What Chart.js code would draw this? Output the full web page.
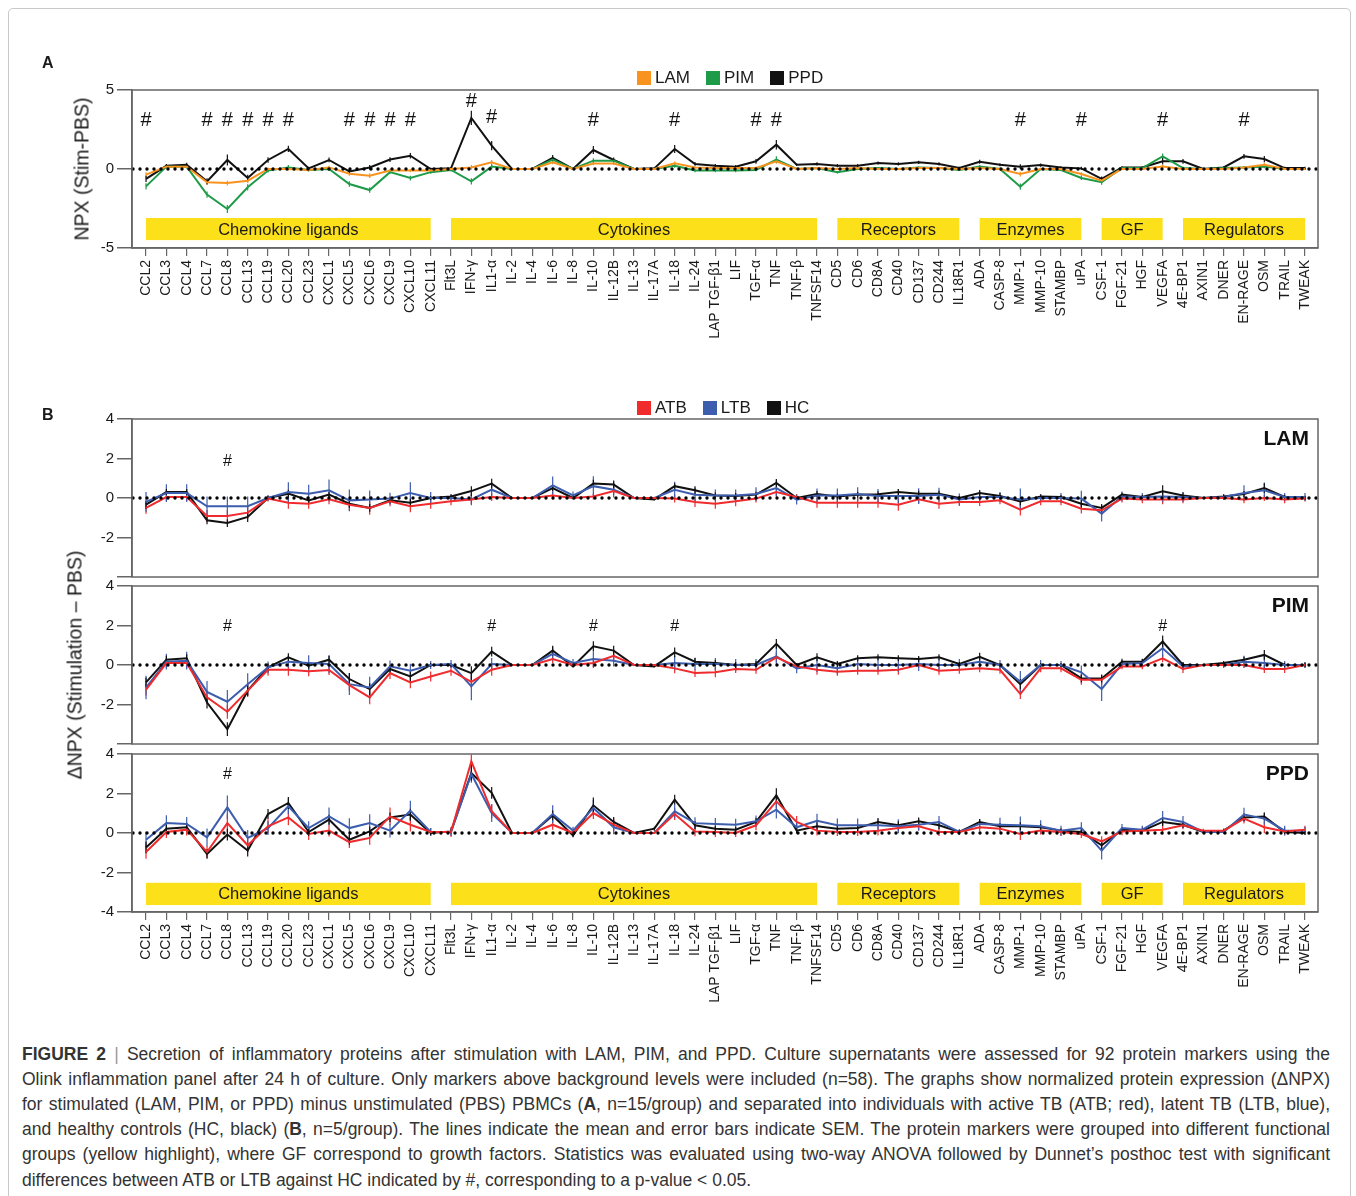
<!DOCTYPE html>
<html>
<head>
<meta charset="utf-8">
<script src="https://cdn.jsdelivr.net/npm/chart.js@4.4.0/dist/chart.umd.min.js"></script>
<style>
  body { margin: 0; background: #fff; font-family: "Liberation Sans", Arial, sans-serif; color: #1a1a1a; }
  #fig { position: relative; width: 1356px; height: 1196px; overflow: hidden; }
  .frame { position: absolute; left: 8px; top: 8px; width: 1341px; height: 1220px; border: 1px solid #c9c9c9; border-radius: 5px; }
  canvas { position: absolute; left: 0; }
  .plbl { position: absolute; font-weight: bold; font-size: 16px; }
  .legend { position: absolute; display: flex; align-items: center; font-size: 17px; white-space: nowrap; z-index: 2; }
  .legend .sq { display: inline-block; width: 14px; height: 14px; margin-right: 4px; }
  .legend .t { margin-right: 16px; }
  .ytitle { position: absolute; font-size: 19.5px; white-space: nowrap; transform: translate(-50%, -50%) rotate(-90deg); }
  .cap { position: absolute; left: 22px; width: 1308px; font-size: 17.5px; line-height: 25px; color: #333; white-space: nowrap; }
</style>
</head>
<body>
<div id="fig">
  <div class="frame"></div>
  <canvas id="chartA"></canvas>
  <canvas id="chartLAM"></canvas>
  <canvas id="chartPIM"></canvas>
  <canvas id="chartPPD"></canvas>

  <div class="plbl" style="left:42px;top:54px;">A</div>
  <div class="plbl" style="left:42px;top:406px;">B</div>

  <div class="legend" style="left:637px;top:68px;">
    <span class="sq" style="background:#F7931E"></span><span class="t">LAM</span>
    <span class="sq" style="background:#1E9B48"></span><span class="t">PIM</span>
    <span class="sq" style="background:#111"></span><span class="t">PPD</span>
  </div>
  <div class="legend" style="left:637px;top:398px;">
    <span class="sq" style="background:#EF2B2D"></span><span class="t">ATB</span>
    <span class="sq" style="background:#3D5DAE"></span><span class="t">LTB</span>
    <span class="sq" style="background:#111"></span><span class="t">HC</span>
  </div>

  <div class="ytitle" style="left:82px;top:169px;">NPX (Stim-PBS)</div>
  <div class="ytitle" style="left:75px;top:665px;">ΔNPX (Stimulation – PBS)</div>

  <div class="cap j" style="top:1042px;"><span><b>FIGURE 2</b> <span style="color:#999">|</span> Secretion of inflammatory proteins after stimulation with LAM, PIM, and PPD. Culture supernatants were assessed for 92 protein markers using the</span></div>
  <div class="cap j" style="top:1067px;"><span>Olink inflammation panel after 24 h of culture. Only markers above background levels were included (n=58). The graphs show normalized protein expression (ΔNPX)</span></div>
  <div class="cap j" style="top:1092px;"><span>for stimulated (LAM, PIM, or PPD) minus unstimulated (PBS) PBMCs (<b>A</b>, n=15/group) and separated into individuals with active TB (ATB; red), latent TB (LTB, blue),</span></div>
  <div class="cap j" style="top:1117px;"><span>and healthy controls (HC, black) (<b>B</b>, n=5/group). The lines indicate the mean and error bars indicate SEM. The protein markers were grouped into different functional</span></div>
  <div class="cap j" style="top:1142px;"><span>groups (yellow highlight), where GF correspond to growth factors. Statistics was evaluated using two-way ANOVA followed by Dunnet’s posthoc test with significant</span></div>
  <div class="cap" style="top:1168px;"><span>differences between ATB or LTB against HC indicated by #, corresponding to a p-value &lt; 0.05.</span></div>
</div>

<script>
// ---------- categories and groups ----------
const categories = [
  'CCL2', 'CCL3', 'CCL4', 'CCL7', 'CCL8', 'CCL13', 'CCL19', 'CCL20', 'CCL23', 'CXCL1', 'CXCL5', 'CXCL6', 'CXCL9', 'CXCL10', 'CXCL11',
  'Flt3L', 'IFN-γ', 'IL1-α', 'IL-2', 'IL-4', 'IL-6', 'IL-8', 'IL-10', 'IL-12B', 'IL-13', 'IL-17A', 'IL-18', 'IL-24', 'LAP TGF-β1', 'LIF', 'TGF-α', 'TNF', 'TNF-β', 'TNFSF14',
  'CD5', 'CD6', 'CD8A', 'CD40', 'CD137', 'CD244', 'IL18R1',
  'ADA', 'CASP-8', 'MMP-1', 'MMP-10', 'STAMBP', 'uPA',
  'CSF-1', 'FGF-21', 'HGF', 'VEGFA',
  '4E-BP1', 'AXIN1', 'DNER', 'EN-RAGE', 'OSM', 'TRAIL', 'TWEAK'
];
const groupNames = ['Chemokine ligands', 'Cytokines', 'Receptors', 'Enzymes', 'GF', 'Regulators'];
const groupStart = [0, 15, 34, 41, 47, 51];
const groupEnd   = [14, 33, 40, 46, 50, 57];

const yTicksA = [-5, 0, 5];
const yTicksB = [-4, -2, 0, 2, 4];

// ---------- panel A: mean NPX ----------
const aLam = [
  -0.36, 0.15, 0.15, -0.84, -0.89, -0.74, 0, 0, -0.06, 0.1, -0.3, -0.42, -0.1, -0.1, -0.1,
  0, 0.1, 0.42, 0, 0, 0.42, 0, 0.35, 0.35, 0, 0, 0.36, 0.1, 0.06, 0.06, 0.06, 0.49, 0, 0.06,
  0, 0.06, 0, 0, 0.06, 0.06, 0,
  0.06, 0, -0.32, 0, 0, -0.32,
  -0.74, 0, 0, 0.15,
  0, 0, 0, 0.1, 0.27, 0, 0
];
const aPim = [
  -1.1, 0.15, 0.15, -1.62, -2.53, -1.16, -0.1, 0.1, -0.06, 0, -0.95, -1.33, -0.2, -0.57, -0.2,
  -0.06, -0.78, 0.15, 0, 0, 0.6, 0, 0.53, 0.53, 0, 0, 0.2, -0.1, -0.1, -0.1, -0.06, 0.6, 0, 0.06,
  -0.2, 0, 0.06, 0, 0.1, 0.06, -0.06,
  0.15, 0, -1.12, 0, -0.06, -0.57,
  -0.84, 0.06, 0.06, 0.8,
  0.06, 0, 0.06, 0.1, 0.15, 0, 0
];
const aPpd = [
  -0.63, 0.2, 0.27, -0.78, 0.57, -0.57, 0.57, 1.27, 0.04, 0.57, -0.15, 0.1, 0.6, 0.84, 0,
  0.04, 3.23, 1.48, 0, 0, 0.7, 0, 1.2, 0.57, 0, 0.04, 1.27, 0.32, 0.21, 0.15, 0.49, 1.54, 0.27, 0.32,
  0.21, 0.21, 0.38, 0.32, 0.42, 0.32, 0.06,
  0.46, 0.27, 0.15, 0.25, 0.1, 0.04,
  -0.63, 0.1, 0.1, 0.49,
  0.49, 0, 0.1, 0.8, 0.63, 0.06, 0.06
];
const aLamErr = [
  0.15, 0.1, 0.1, 0.15, 0.15, 0.15, 0.1, 0.1, 0.08, 0.1, 0.12, 0.15, 0.1, 0.1, 0.08,
  0.08, 0.15, 0.15, 0.05, 0.05, 0.12, 0.05, 0.12, 0.1, 0.05, 0.05, 0.12, 0.08, 0.08, 0.08, 0.08, 0.15, 0.06, 0.06,
  0.06, 0.06, 0.06, 0.06, 0.06, 0.06, 0.06,
  0.08, 0.08, 0.15, 0.06, 0.06, 0.12,
  0.12, 0.06, 0.06, 0.1,
  0.06, 0.05, 0.06, 0.08, 0.12, 0.06, 0.06
];
const aPimErr = [
  0.2, 0.12, 0.12, 0.2, 0.25, 0.2, 0.12, 0.15, 0.1, 0.1, 0.18, 0.18, 0.12, 0.15, 0.1,
  0.08, 0.2, 0.15, 0.05, 0.05, 0.15, 0.05, 0.15, 0.12, 0.05, 0.05, 0.12, 0.1, 0.1, 0.1, 0.08, 0.2, 0.06, 0.06,
  0.08, 0.06, 0.06, 0.06, 0.06, 0.06, 0.06,
  0.1, 0.08, 0.2, 0.08, 0.06, 0.12,
  0.15, 0.06, 0.06, 0.18,
  0.08, 0.05, 0.06, 0.08, 0.1, 0.06, 0.06
];
const aPpdErr = [
  0.2, 0.12, 0.12, 0.2, 0.35, 0.2, 0.18, 0.2, 0.1, 0.15, 0.15, 0.15, 0.15, 0.18, 0.08,
  0.08, 0.45, 0.3, 0.05, 0.05, 0.18, 0.05, 0.25, 0.15, 0.05, 0.05, 0.25, 0.12, 0.1, 0.1, 0.15, 0.3, 0.08, 0.1,
  0.1, 0.1, 0.1, 0.1, 0.1, 0.1, 0.08,
  0.12, 0.1, 0.15, 0.1, 0.08, 0.1,
  0.15, 0.08, 0.08, 0.2,
  0.15, 0.05, 0.08, 0.15, 0.2, 0.08, 0.08
];
const hashA  = [0, 3, 4, 5, 6, 7, 10, 11, 12, 13, 16, 17, 22, 26, 30, 31, 43, 46, 50, 54];
const hashAY = [3.05, 3.05, 3.05, 3.05, 3.05, 3.05, 3.05, 3.05, 3.05, 3.05, 4.25, 3.25, 3.05, 3.05, 3.05, 3.05, 3.05, 3.05, 3.05, 3.05];

// ---------- panel B, LAM ----------
const lamAtb = [
  -0.5, 0.05, 0.05, -0.91, -0.91, -0.74, -0.03, -0.24, -0.29, -0.07, -0.34, -0.5, -0.17, -0.42, -0.29,
  -0.17, -0.07, 0.05, 0, 0, 0.13, 0, 0.08, 0.35, 0, 0, -0.03, -0.2, -0.29, -0.17, -0.03, 0.3, 0.05, -0.24,
  -0.24, -0.24, -0.24, -0.34, -0.07, -0.29, -0.2,
  -0.2, -0.12, -0.59, -0.17, -0.17, -0.54,
  -0.62, -0.03, -0.07, -0.07,
  -0.07, 0, 0, -0.07, 0, -0.07, -0.03
];
const lamLtb = [
  -0.2, 0.25, 0.25, -0.42, -0.42, -0.42, 0, 0.3, 0.22, 0.39, -0.12, -0.07, -0.03, 0.25, 0,
  0, -0.07, 0.42, 0, 0, 0.64, 0.13, 0.6, 0.42, 0, 0, 0.42, 0.17, 0.13, 0.13, 0.2, 0.5, -0.08, 0.13,
  0.13, 0.2, 0.1, 0.1, 0.1, 0.17, -0.07,
  0.05, 0.05, -0.07, 0, 0, -0.03,
  -0.79, 0.08, 0.05, 0.08,
  0.05, 0, 0.05, 0.25, 0.39, 0.05, 0.05
];
const lamHc = [
  -0.34, 0.3, 0.3, -1.13, -1.27, -0.96, 0, 0.22, -0.12, 0.17, -0.29, -0.5, -0.12, -0.24, 0,
  0.08, 0.35, 0.73, 0, 0, 0.5, 0, 0.73, 0.68, 0, -0.07, 0.6, 0.39, 0.13, 0.1, 0.17, 0.76, 0, 0.2,
  0.08, 0.17, 0.19, 0.3, 0.22, 0.22, 0,
  0.25, 0.1, -0.17, 0.08, 0.05, -0.29,
  -0.5, 0.17, 0.05, 0.34,
  0.13, 0, 0.08, 0.2, 0.5, 0.05, 0
];
const lamAtbErr = [
  0.3, 0.2, 0.2, 0.3, 0.3, 0.3, 0.15, 0.3, 0.25, 0.25, 0.3, 0.35, 0.25, 0.3, 0.25,
  0.2, 0.25, 0.2, 0.05, 0.05, 0.2, 0.05, 0.15, 0.2, 0.05, 0.05, 0.2, 0.25, 0.25, 0.25, 0.2, 0.25, 0.15, 0.25,
  0.25, 0.25, 0.25, 0.3, 0.2, 0.25, 0.2,
  0.2, 0.2, 0.3, 0.2, 0.2, 0.25,
  0.25, 0.2, 0.2, 0.25,
  0.2, 0.05, 0.1, 0.2, 0.15, 0.2, 0.15
];
const lamLtbErr = [
  0.5, 0.45, 0.45, 0.5, 0.5, 0.5, 0.15, 0.5, 0.45, 0.55, 0.55, 0.45, 0.3, 0.55, 0.3,
  0.2, 0.3, 0.35, 0.05, 0.05, 0.45, 0.2, 0.5, 0.4, 0.05, 0.05, 0.4, 0.35, 0.3, 0.3, 0.35, 0.4, 0.25, 0.35,
  0.35, 0.35, 0.35, 0.35, 0.4, 0.35, 0.3,
  0.3, 0.25, 0.55, 0.2, 0.25, 0.4,
  0.4, 0.25, 0.2, 0.3,
  0.25, 0.05, 0.15, 0.4, 0.4, 0.2, 0.2
];
const lamHcErr = [
  0.2, 0.15, 0.15, 0.2, 0.2, 0.25, 0.1, 0.2, 0.15, 0.15, 0.2, 0.2, 0.15, 0.2, 0.1,
  0.1, 0.25, 0.25, 0.05, 0.05, 0.15, 0.05, 0.2, 0.2, 0.05, 0.05, 0.15, 0.2, 0.15, 0.15, 0.15, 0.2, 0.1, 0.15,
  0.15, 0.15, 0.15, 0.15, 0.15, 0.15, 0.1,
  0.15, 0.15, 0.2, 0.1, 0.1, 0.2,
  0.2, 0.1, 0.1, 0.3,
  0.15, 0.05, 0.1, 0.15, 0.25, 0.1, 0.1
];
const hashLam  = [4];
const hashLamY = [1.82];

// ---------- panel B, PIM ----------
const pimAtb = [
  -1.25, 0.1, 0.1, -1.64, -2.37, -1.3, -0.24, -0.24, -0.32, -0.25, -1.02, -1.64, -0.41, -0.88, -0.58,
  -0.29, -0.85, -0.24, 0, 0, 0.3, 0, 0.1, 0.47, 0, 0, -0.17, -0.41, -0.37, -0.2, -0.24, 0.39, -0.07, -0.24,
  -0.34, -0.29, -0.29, -0.24, 0, -0.29, -0.24,
  -0.17, -0.24, -1.47, -0.17, -0.17, -0.75,
  -0.75, -0.07, -0.07, 0.34,
  -0.2, 0, 0, 0, -0.2, -0.2, 0
];
const pimLtb = [
  -1.14, 0.17, 0.22, -1.36, -1.86, -0.97, -0.12, 0.17, 0.1, 0.05, -0.97, -1.14, -0.07, -0.29, 0,
  0.05, -1.08, 0.05, 0, 0, 0.56, 0.1, 0.3, 0.22, 0, 0, 0.1, 0.05, 0.05, 0, 0, 0.44, -0.17, 0,
  -0.17, 0.05, 0, 0, 0.05, 0, 0,
  0.17, 0, -0.85, 0, 0, -0.37,
  -1.22, 0.05, 0.1, 0.85,
  -0.07, 0, 0, 0.17, 0.1, 0, 0
];
const pimHc = [
  -0.88, 0.27, 0.34, -1.9, -3.25, -1.3, -0.12, 0.39, -0.03, 0.27, -0.71, -1.22, -0.2, -0.58, 0,
  0, -0.41, 0.68, 0, 0, 0.73, -0.07, 0.95, 0.73, 0, -0.07, 0.64, 0.17, 0.1, 0, 0.05, 1.07, 0, 0.39,
  0.05, 0.34, 0.39, 0.34, 0.3, 0.39, 0.05,
  0.42, 0, -0.97, 0, 0, -0.68,
  -0.68, 0.17, 0.17, 1.19,
  0, 0, 0.1, 0.27, 0.51, 0, 0
];
const pimAtbErr = [
  0.3, 0.25, 0.25, 0.3, 0.35, 0.3, 0.3, 0.3, 0.25, 0.25, 0.3, 0.35, 0.3, 0.3, 0.25,
  0.25, 0.3, 0.3, 0.05, 0.05, 0.2, 0.1, 0.25, 0.25, 0.05, 0.05, 0.25, 0.2, 0.25, 0.2, 0.2, 0.25, 0.15, 0.25,
  0.2, 0.2, 0.2, 0.25, 0.15, 0.2, 0.2,
  0.2, 0.2, 0.25, 0.2, 0.2, 0.25,
  0.25, 0.15, 0.15, 0.2,
  0.2, 0.05, 0.1, 0.15, 0.2, 0.2, 0.15
];
const pimLtbErr = [
  0.6, 0.4, 0.45, 0.55, 0.6, 0.55, 0.3, 0.3, 0.4, 0.45, 0.55, 0.55, 0.3, 0.35, 0.2,
  0.2, 0.7, 0.3, 0.05, 0.05, 0.35, 0.2, 0.4, 0.3, 0.05, 0.05, 0.35, 0.3, 0.3, 0.3, 0.3, 0.5, 0.25, 0.35,
  0.3, 0.3, 0.35, 0.35, 0.35, 0.3, 0.3,
  0.3, 0.25, 0.55, 0.25, 0.2, 0.35,
  0.6, 0.2, 0.2, 0.45,
  0.2, 0.05, 0.15, 0.3, 0.35, 0.2, 0.15
];
const pimHcErr = [
  0.25, 0.2, 0.2, 0.3, 0.35, 0.3, 0.2, 0.2, 0.15, 0.2, 0.3, 0.3, 0.2, 0.25, 0.1,
  0.1, 0.35, 0.25, 0.05, 0.05, 0.25, 0.05, 0.25, 0.25, 0.05, 0.05, 0.25, 0.2, 0.15, 0.15, 0.15, 0.25, 0.1, 0.2,
  0.15, 0.15, 0.15, 0.15, 0.15, 0.15, 0.1,
  0.2, 0.1, 0.25, 0.1, 0.1, 0.2,
  0.2, 0.15, 0.15, 0.3,
  0.15, 0.05, 0.1, 0.15, 0.25, 0.1, 0.1
];
const hashPim  = [4, 17, 22, 26, 50];
const hashPimY = [1.96, 1.96, 1.96, 1.96, 1.96];

// ---------- panel B, PPD ----------
const ppdAtb = [
  -0.96, 0.05, 0.17, -0.96, 0.5, -0.62, 0.34, 0.79, -0.05, 0.12, -0.46, -0.25, 0.84, 0.42, 0.05,
  0.05, 3.63, 1.1, 0, 0, 0.42, 0, 1.01, 0.42, 0, 0, 0.96, 0.08, 0.05, 0, 0.39, 1.6, 0.56, 0.12,
  0.05, 0.05, 0.12, 0.25, 0.34, 0.05, 0.05,
  0.29, 0.22, -0.05, 0.12, 0.05, -0.05,
  -0.42, 0.08, 0.12, 0.17,
  0.39, 0.12, 0.12, 0.73, 0.29, 0.08, 0.17
];
const ppdLtb = [
  -0.34, 0.5, 0.46, -0.22, 1.3, -0.25, 0.25, 1.35, 0.25, 0.84, 0.25, 0.5, 0.12, 1.13, 0.05,
  0.05, 2.99, 1.01, 0, 0, 0.96, 0.12, 1.27, 0.29, 0, 0, 1.1, 0.5, 0.46, 0.42, 0.59, 1.18, 0.29, 0.62,
  0.39, 0.39, 0.39, 0.34, 0.42, 0.56, 0.05,
  0.46, 0.42, 0.39, 0.34, 0.12, 0.25,
  -0.89, 0.25, 0.17, 0.76,
  0.56, 0.05, 0.05, 0.93, 0.73, 0.12, 0.12
];
const ppdHc = [
  -0.73, 0.22, 0.29, -1.06, -0.08, -0.89, 0.96, 1.52, 0.05, 0.68, -0.34, 0.08, 0.79, 0.93, 0,
  0.08, 3.04, 2.03, 0, 0, 0.89, -0.12, 1.4, 0.56, 0, 0.22, 1.69, 0.39, 0.22, 0.17, 0.56, 1.91, 0.12, 0.34,
  0.22, 0.25, 0.56, 0.39, 0.59, 0.39, 0.05,
  0.56, 0.34, 0.34, 0.29, 0.12, 0.05,
  -0.62, 0.17, 0.12, 0.56,
  0.42, 0.05, 0.12, 0.79, 0.84, 0.05, 0
];
const ppdAtbErr = [
  0.35, 0.3, 0.3, 0.3, 0.45, 0.35, 0.35, 0.4, 0.3, 0.3, 0.3, 0.35, 0.45, 0.35, 0.2,
  0.25, 0.35, 0.35, 0.05, 0.05, 0.25, 0.1, 0.3, 0.3, 0.05, 0.05, 0.3, 0.25, 0.25, 0.2, 0.25, 0.35, 0.3, 0.25,
  0.2, 0.2, 0.25, 0.25, 0.2, 0.2, 0.1,
  0.2, 0.2, 0.3, 0.2, 0.2, 0.2,
  0.25, 0.2, 0.2, 0.25,
  0.2, 0.1, 0.1, 0.25, 0.3, 0.2, 0.2
];
const ppdLtbErr = [
  0.4, 0.4, 0.35, 0.45, 0.6, 0.4, 0.35, 0.4, 0.35, 0.45, 0.5, 0.45, 0.35, 0.5, 0.2,
  0.2, 0.45, 0.45, 0.05, 0.05, 0.45, 0.2, 0.4, 0.35, 0.05, 0.05, 0.35, 0.3, 0.3, 0.3, 0.3, 0.45, 0.25, 0.35,
  0.35, 0.35, 0.3, 0.35, 0.3, 0.3, 0.15,
  0.25, 0.35, 0.45, 0.3, 0.25, 0.3,
  0.45, 0.2, 0.2, 0.35,
  0.3, 0.1, 0.1, 0.35, 0.3, 0.25, 0.2
];
const ppdHcErr = [
  0.3, 0.2, 0.2, 0.25, 0.3, 0.3, 0.25, 0.3, 0.2, 0.25, 0.25, 0.25, 0.25, 0.3, 0.1,
  0.1, 0.4, 0.3, 0.05, 0.05, 0.25, 0.1, 0.4, 0.25, 0.05, 0.1, 0.25, 0.2, 0.15, 0.15, 0.2, 0.35, 0.15, 0.2,
  0.15, 0.15, 0.2, 0.2, 0.2, 0.2, 0.1,
  0.15, 0.15, 0.2, 0.15, 0.1, 0.15,
  0.25, 0.1, 0.1, 0.2,
  0.15, 0.05, 0.1, 0.2, 0.2, 0.1, 0.1
];
const hashPpd  = [4];
const hashPpdY = [2.95];

// ---------- colours ----------
const C_LAM = '#F7931E', C_PIM = '#1E9B48', C_PPD = '#111111';
const C_ATB = '#EF2B2D', C_LTB = '#3D5DAE', C_HC = '#111111';
const YELLOW = '#FCE019';
const FONT = '"Liberation Sans", Arial, sans-serif';

Chart.defaults.font.family = FONT;
Chart.defaults.color = '#1a1a1a';

// boxes, error bars, dotted zero line, # marks, panel name
const overlay = {
  id: 'overlay',
  beforeDatasetsDraw(chart, args, o) {
    const { ctx, scales: { x, y } } = chart;
    ctx.save();
    if (o.boxes) {
      const y0 = y.getPixelForValue(o.boxes[0]), y1 = y.getPixelForValue(o.boxes[1]);
      groupNames.forEach((g, k) => {
        const x0 = x.getPixelForValue(groupStart[k]), x1 = x.getPixelForValue(groupEnd[k]);
        ctx.fillStyle = YELLOW;
        ctx.fillRect(x0, y0, x1 - x0, y1 - y0);
        ctx.fillStyle = '#1a1a1a';
        ctx.font = '16.5px ' + FONT;
        ctx.textAlign = 'center';
        ctx.textBaseline = 'middle';
        ctx.fillText(g, (x0 + x1) / 2, (y0 + y1) / 2 + 1);
      });
    }
    chart.data.datasets.forEach(ds => {
      ctx.strokeStyle = ds.borderColor;
      ctx.lineWidth = 1.2;
      ds.data.forEach((p, i) => {
        const px = x.getPixelForValue(p.x);
        ctx.beginPath();
        ctx.moveTo(px, y.getPixelForValue(p.y - ds.err[i]));
        ctx.lineTo(px, y.getPixelForValue(p.y + ds.err[i]));
        ctx.stroke();
      });
    });
    ctx.restore();
  },
  afterDatasetsDraw(chart, args, o) {
    const { ctx, chartArea: a, scales: { x, y } } = chart;
    ctx.save();
    const yz = y.getPixelForValue(0);
    ctx.setLineDash([0, 7]);
    ctx.lineCap = 'round';
    ctx.lineWidth = 3.4;
    ctx.strokeStyle = '#000';
    ctx.beginPath();
    ctx.moveTo(a.left + 1, yz);
    ctx.lineTo(a.right + 3, yz);
    ctx.stroke();
    ctx.setLineDash([]);

    ctx.strokeStyle = '#666';
    ctx.lineWidth = 1.5;
    ctx.strokeRect(a.left, a.top, a.right - a.left, a.bottom - a.top);

    ctx.fillStyle = '#111';
    ctx.font = o.hashFont + ' ' + FONT;
    ctx.textAlign = 'center';
    ctx.textBaseline = 'middle';
    o.hashIdx.forEach((i, k) => ctx.fillText('#', x.getPixelForValue(i), y.getPixelForValue(o.hashY[k])));

    if (o.label) {
      ctx.font = 'bold 21px ' + FONT;
      ctx.textAlign = 'right';
      ctx.fillText(o.label, a.right - 9, a.top + 20);
    }
    ctx.restore();
  }
};

function makePanel(id, cfg) {
  const canvas = document.getElementById(id);
  canvas.width = 1356;
  canvas.height = cfg.height;
  canvas.style.top = cfg.top + 'px';
  return new Chart(canvas, {
    type: 'line',
    data: {
      datasets: cfg.series.map(s => ({
        label: s.label,
        data: s.values.map((v, i) => ({ x: i, y: v })),
        err: s.err,
        borderColor: s.color,
        backgroundColor: s.color,
        borderWidth: 2,
        pointRadius: 0,
        tension: 0
      }))
    },
    options: {
      responsive: false,
      animation: false,
      layout: { padding: { left: 0, right: 38, top: cfg.padTop, bottom: cfg.padBottom } },
      plugins: {
        legend: { display: false },
        tooltip: { enabled: false },
        overlay: { boxes: cfg.boxes, hashIdx: cfg.hashIdx, hashY: cfg.hashY, hashFont: cfg.hashFont, label: cfg.label }
      },
      scales: {
        x: {
          type: 'linear',
          min: -0.69,
          max: 57.64,
          display: cfg.showX,
          afterBuildTicks: s => { s.ticks = categories.map((c, i) => ({ value: i })); },
          afterFit: s => { s.height = cfg.xHeight; },
          ticks: {
            autoSkip: false, minRotation: 90, maxRotation: 90, padding: 4,
            color: '#1a1a1a', font: { size: 14 },
            callback: v => categories[v]
          },
          grid: { drawOnChartArea: false, color: '#666', lineWidth: 1.2, tickLength: 8 },
          border: { color: '#666', width: 1.5 }
        },
        y: {
          min: cfg.yMin,
          max: cfg.yMax,
          afterBuildTicks: s => { s.ticks = cfg.yTicks.map(v => ({ value: v })); },
          afterFit: s => { s.width = 132; },
          ticks: {
            padding: 3, color: '#1a1a1a', font: { size: 15 },
            callback: v => (cfg.hideBottom && v === cfg.yMin) ? '' : String(v)
          },
          grid: { drawOnChartArea: false, color: '#666', lineWidth: 1.5, tickLength: 15 },
          border: { color: '#666', width: 1.5 }
        }
      }
    },
    plugins: [overlay]
  });
}

makePanel('chartA', {
  top: 0, height: 370, padTop: 90, padBottom: 0, showX: true, xHeight: 122,
  yMin: -5, yMax: 5, yTicks: yTicksA, boxes: [-3.1, -4.5],
  hashIdx: hashA, hashY: hashAY, hashFont: '20px',
  series: [
    { label: 'LAM', values: aLam, err: aLamErr, color: C_LAM },
    { label: 'PIM', values: aPim, err: aPimErr, color: C_PIM },
    { label: 'PPD', values: aPpd, err: aPpdErr, color: C_PPD }
  ]
});

makePanel('chartLAM', {
  top: 407, height: 182, padTop: 12, padBottom: 12, showX: false, xHeight: 0,
  yMin: -4, yMax: 4, yTicks: yTicksB, hideBottom: true, label: 'LAM',
  hashIdx: hashLam, hashY: hashLamY, hashFont: '16px',
  series: [
    { label: 'ATB', values: lamAtb, err: lamAtbErr, color: C_ATB },
    { label: 'LTB', values: lamLtb, err: lamLtbErr, color: C_LTB },
    { label: 'HC', values: lamHc, err: lamHcErr, color: C_HC }
  ]
});

makePanel('chartPIM', {
  top: 574, height: 182, padTop: 12, padBottom: 12, showX: false, xHeight: 0,
  yMin: -4, yMax: 4, yTicks: yTicksB, hideBottom: true, label: 'PIM',
  hashIdx: hashPim, hashY: hashPimY, hashFont: '16px',
  series: [
    { label: 'ATB', values: pimAtb, err: pimAtbErr, color: C_ATB },
    { label: 'LTB', values: pimLtb, err: pimLtbErr, color: C_LTB },
    { label: 'HC', values: pimHc, err: pimHcErr, color: C_HC }
  ]
});

makePanel('chartPPD', {
  top: 742, height: 292, padTop: 12, padBottom: 0, showX: true, xHeight: 122,
  yMin: -4, yMax: 4, yTicks: yTicksB, label: 'PPD', boxes: [-2.52, -3.65],
  hashIdx: hashPpd, hashY: hashPpdY, hashFont: '16px',
  series: [
    { label: 'ATB', values: ppdAtb, err: ppdAtbErr, color: C_ATB },
    { label: 'LTB', values: ppdLtb, err: ppdLtbErr, color: C_LTB },
    { label: 'HC', values: ppdHc, err: ppdHcErr, color: C_HC }
  ]
});

// stretch (or squeeze) caption lines to the full width
function justifyCaption() {
  document.querySelectorAll('.cap.j').forEach(el => {
    const span = el.firstElementChild;
    span.style.wordSpacing = '0px';
    span.style.letterSpacing = '0px';
    const w = span.getBoundingClientRect().width;
    const text = span.textContent;
    const gaps = (text.match(/ /g) || []).length;
    const delta = 1308 - w;
    if (delta >= 0) {
      if (gaps) span.style.wordSpacing = (delta / gaps) + 'px';
    } else {
      span.style.letterSpacing = (delta / text.length) + 'px';
    }
  });
}
justifyCaption();
if (document.fonts) document.fonts.ready.then(justifyCaption);
</script>
</body>
</html>
